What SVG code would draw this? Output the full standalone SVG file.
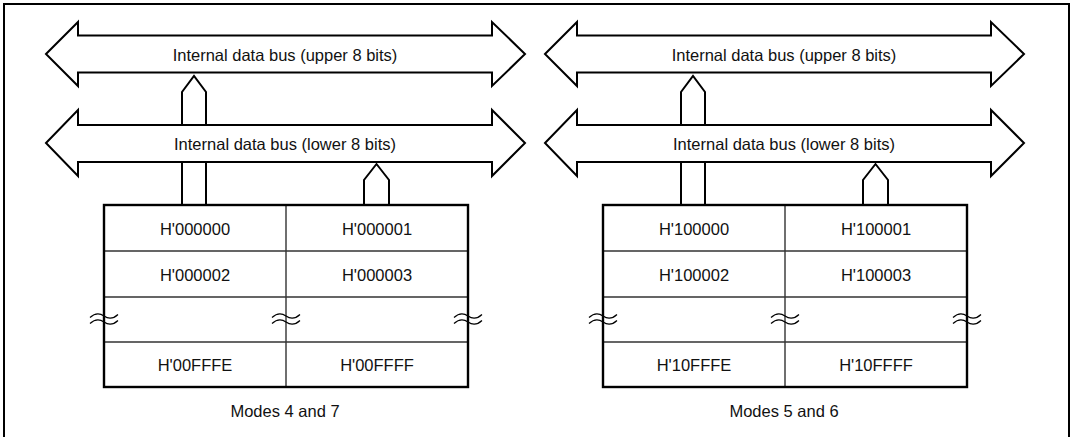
<svg xmlns="http://www.w3.org/2000/svg" xmlns:xlink="http://www.w3.org/1999/xlink" width="1074" height="437" viewBox="0 0 1074 437">
<style>
.ln{fill:none;stroke:#000;stroke-width:2;stroke-linejoin:miter}
.bus{fill:#fff;stroke:#000;stroke-width:2;stroke-linejoin:miter}
.grid{fill:none;stroke:#333;stroke-width:1.4}
.box{fill:none;stroke:#000;stroke-width:2.4}
.wv{fill:none;stroke:#000;stroke-width:1.2}
text{font-family:"Liberation Sans",Arial,sans-serif;font-size:16.5px;fill:#111;text-anchor:middle}
</style>
<defs>
<g id="wave">
<path class="wv" d="M-14,1.5 Q-7,-5 0,0 T14,-1.5"/>
<path class="wv" d="M-14,7.5 Q-7,1 0,6 T14,4.5"/>
</g>
</defs>
<rect width="1074" height="437" fill="#fff"/>
<path class="ln" d="M4,440 L4,4 L1069,4 L1069,440"/>

<g id="left">
<g id="bus-upper-L">
<path class="bus" d="M46,54 L78,22 L78,35.5 L492,35.5 L492,22 L525,54 L492,86 L492,72.5 L78,72.5 L78,86 Z"/>
<text x="285" y="61">Internal data bus (upper 8 bits)</text>
</g>
<g id="bus-lower-L">
<path class="bus" d="M46,143 L78,110 L78,125 L492,125 L492,110 L525,143 L492,176 L492,162 L78,162 L78,176 Z"/>
<text x="285" y="150">Internal data bus (lower 8 bits)</text>
</g>
<g id="mem-L">
<path class="grid" d="M104,251 H468 M104,297 H468 M104,342 H468 M286,205 V387"/>
<rect class="box" x="104" y="205" width="364" height="182"/>
<text x="195" y="235">H'000000</text>
<text x="377" y="235">H'000001</text>
<text x="195" y="281">H'000002</text>
<text x="377" y="281">H'000003</text>
<text x="195" y="371">H'00FFFE</text>
<text x="377" y="371">H'00FFFF</text>
<use xlink:href="#wave" x="104" y="316"/>
<use xlink:href="#wave" x="286" y="316"/>
<use xlink:href="#wave" x="468" y="316"/>
</g>
<text x="285" y="417">Modes 4 and 7</text>
</g>

<g id="right">
<g id="bus-upper-R">
<path class="bus" d="M545,54 L577,22 L577,35.5 L991,35.5 L991,22 L1024,54 L991,86 L991,72.5 L577,72.5 L577,86 Z"/>
<text x="784" y="61">Internal data bus (upper 8 bits)</text>
</g>
<g id="bus-lower-R">
<path class="bus" d="M545,143 L577,110 L577,125 L991,125 L991,110 L1024,143 L991,176 L991,162 L577,162 L577,176 Z"/>
<text x="784" y="150">Internal data bus (lower 8 bits)</text>
</g>
<g id="mem-R">
<path class="grid" d="M603,251 H967 M603,297 H967 M603,342 H967 M785,205 V387"/>
<rect class="box" x="603" y="205" width="364" height="182"/>
<text x="694" y="235">H'100000</text>
<text x="876" y="235">H'100001</text>
<text x="694" y="281">H'100002</text>
<text x="876" y="281">H'100003</text>
<text x="694" y="371">H'10FFFE</text>
<text x="876" y="371">H'10FFFF</text>
<use xlink:href="#wave" x="603" y="316"/>
<use xlink:href="#wave" x="785" y="316"/>
<use xlink:href="#wave" x="967" y="316"/>
</g>
<text x="784" y="417">Modes 5 and 6</text>
</g>

<g id="connectors">
<path class="ln" d="M182,125 L182,92 L194,76 L206,92 L206,125"/>
<path class="ln" d="M182,162 L182,205 M206,162 L206,205"/>
<path class="ln" d="M364,205 L364,180 L376.5,164 L389,180 L389,205"/>
<path class="ln" d="M681,125 L681,92 L693,76 L705,92 L705,125"/>
<path class="ln" d="M681,162 L681,205 M705,162 L705,205"/>
<path class="ln" d="M863,205 L863,180 L875.5,164 L888,180 L888,205"/>
</g>
</svg>
